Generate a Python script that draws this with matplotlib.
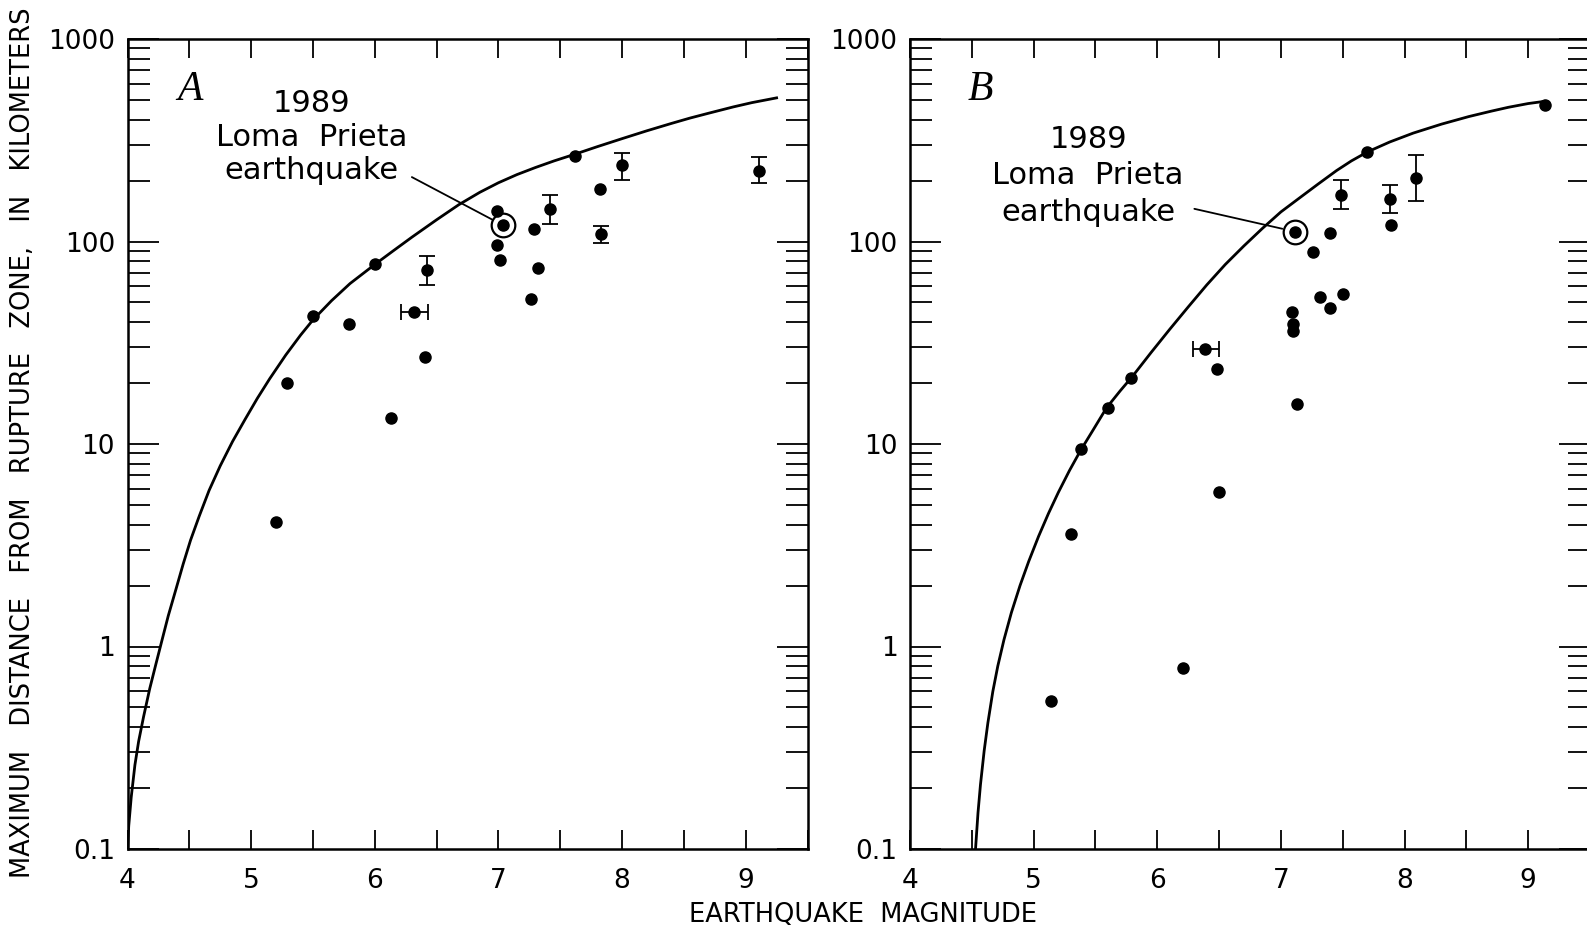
import numpy as np
import matplotlib
matplotlib.use("Agg")
import matplotlib.pyplot as plt

plt.rcParams["font.family"] = ["DejaVu Sans"]

# ---- panel A ----
a_curve_mag = [4.00, 4.01, 4.03, 4.06, 4.09, 4.13, 4.18, 4.23, 4.28, 4.33, 4.39,
               4.45, 4.51, 4.58, 4.66, 4.75, 4.85, 4.95, 5.05, 5.15, 5.28, 5.40,
               5.50, 5.65, 5.80, 6.00, 6.15, 6.30, 6.50, 6.68, 6.85, 7.00, 7.15,
               7.30, 7.45, 7.62, 7.80, 8.00, 8.20, 8.40, 8.55, 8.70, 8.90, 9.05,
               9.25]
a_curve_dist = [0.10, 0.13, 0.18, 0.26, 0.34, 0.45, 0.62, 0.82, 1.08, 1.42, 1.9,
                2.55, 3.35, 4.4, 5.9, 7.8, 10.3, 13.2, 16.8, 21, 27.5, 34.5,
                41, 51, 62, 77, 90, 105, 128, 152, 175, 195, 214,
                232, 250, 270, 294, 322, 352, 383, 407, 430, 462, 485,
                512]

a_dot_mag = [5.20, 5.29, 5.50, 5.79, 6.00, 6.13, 6.41, 6.99, 6.99, 7.01,
             7.26, 7.29, 7.32, 7.62, 7.82]
a_dot_dist = [4.1, 20, 43, 39, 77, 13.4, 27, 141, 96, 81,
              52, 115, 74, 265, 182]

a_yerr_mag = [6.42, 7.42, 7.83, 8.00, 9.11]
a_yerr_dist = [72, 144, 109, 239, 224]
a_yerr_lo = [61, 122, 98, 202, 194]
a_yerr_hi = [85, 170, 119, 275, 261]

a_xerr_mag = [6.32]
a_xerr_dist = [45]
a_xerr_lo = [6.21]
a_xerr_hi = [6.43]

a_loma = (7.04, 120)

# ---- panel B ----
b_curve_mag = [4.53, 4.55, 4.57, 4.60, 4.63, 4.67, 4.71, 4.76, 4.82, 4.89, 4.96,
               5.04, 5.12, 5.20, 5.29, 5.38, 5.48, 5.59, 5.70, 5.80, 5.95, 6.10,
               6.25, 6.40, 6.55, 6.70, 6.85, 7.00, 7.15, 7.30, 7.45, 7.57, 7.70,
               7.88, 8.07, 8.30, 8.52, 8.70, 8.84, 9.00, 9.13]
b_curve_dist = [0.10, 0.151, 0.208, 0.306, 0.42, 0.60, 0.80, 1.08, 1.47, 2.0, 2.63,
                3.5, 4.54, 5.77, 7.4, 9.3, 11.7, 15.1, 18.3, 21.6, 28.3, 36.8,
                47.5, 61, 77, 95, 116, 140, 164, 192, 224, 250, 277,
                310, 343, 380, 414, 440, 460, 480, 492]

b_dot_mag = [5.14, 5.30, 5.38, 5.60, 5.79, 6.21, 6.50, 6.48, 7.09, 7.10, 7.10,
             7.13, 7.26, 7.32, 7.40, 7.40, 7.50, 7.70, 7.89, 9.14]
b_dot_dist = [0.54, 3.6, 9.4, 15.1, 21.2, 0.78, 5.8, 23.5, 45, 39, 36,
              15.8, 89, 53, 110, 47, 55, 277, 120, 470]

b_yerr_mag = [7.49, 7.88, 8.09]
b_yerr_dist = [170, 162, 206]
b_yerr_lo = [144, 138, 158]
b_yerr_hi = [202, 191, 268]

b_xerr_mag = [6.39]
b_xerr_dist = [29.4]
b_xerr_lo = [6.29]
b_xerr_hi = [6.50]

b_loma = (7.11, 112)

ytick_vals = [0.1, 1, 10, 100, 1000]
ytick_labels = ["0.1", "1", "10", "100", "1000"]
xtick_vals = [4, 5, 6, 7, 8, 9]
loma_text = "1989\nLoma  Prieta\nearthquake"

W, H = 1587, 932
fig = plt.figure(figsize=(W / 100, H / 100), dpi=100)


def draw_panel(ax, cm, cd, dm, dd, em, ed, elo, ehi, xm, xd, xlo, xhi, loma,
               letter, letter_pos, text_pos, text_spacing, leader_start):
    ax.set_yscale("log")
    ax.plot(cm, cd, color="black", lw=2.0, solid_joinstyle="round", zorder=3)
    ax.plot(dm, dd, "o", color="black", ms=8, zorder=4)
    ed = np.array(ed)
    ax.errorbar(em, ed, yerr=[ed - np.array(elo), np.array(ehi) - ed],
                fmt="o", color="black", ms=8, elinewidth=1.3, capsize=5.5,
                capthick=1.3, zorder=4)
    xm = np.array(xm)
    ax.errorbar(xm, xd, xerr=[xm - np.array(xlo), np.array(xhi) - xm],
                fmt="o", color="black", ms=8, elinewidth=1.3, capsize=5.5,
                capthick=1.3, zorder=4)
    ax.plot([loma[0]], [loma[1]], "o", color="black", ms=8, zorder=5)
    ax.plot([loma[0]], [loma[1]], "o", mfc="none", mec="black", ms=17,
            mew=1.6, zorder=5)
    ax.annotate("", xy=loma, xytext=leader_start,
                arrowprops=dict(arrowstyle="-", color="black", lw=1.3,
                                shrinkA=0, shrinkB=9))
    ax.text(text_pos[0], text_pos[1], loma_text, transform=ax.transAxes,
            ha="center", va="center", fontsize=22, linespacing=text_spacing)
    ax.text(letter_pos[0], letter_pos[1], letter, transform=ax.transAxes,
            ha="center", va="center", fontsize=30, style="italic",
            family="Liberation Serif")

    ax.set_xlim(4, 9.48)
    ax.set_ylim(0.1, 1000)
    ax.set_xticks(xtick_vals)
    ax.set_xticks([v + 0.5 for v in xtick_vals], minor=True)
    ax.set_yticks(ytick_vals, ytick_labels)
    ax.yaxis.set_minor_locator(matplotlib.ticker.LogLocator(base=10, subs=range(2, 10)))
    ax.yaxis.set_minor_formatter(matplotlib.ticker.NullFormatter())
    ax.tick_params(axis="x", which="both", direction="in", top=True,
                   length=13.5, width=1.3, labelsize=19, pad=14)
    ax.tick_params(axis="y", which="major", direction="in", right=True,
                   length=22, width=1.3, labelsize=19, pad=9)
    ax.tick_params(axis="y", which="minor", direction="in", right=True,
                   length=16, width=1.3)
    for s in ax.spines.values():
        s.set_linewidth(1.8)


ax_w = 680 / W
ax_h = 810 / H
ax_b = (H - 849) / H
axA = fig.add_axes([127.5 / W, ax_b, ax_w, ax_h])
axB = fig.add_axes([910 / W, ax_b, ax_w, ax_h])

draw_panel(axA, a_curve_mag, a_curve_dist, a_dot_mag, a_dot_dist,
           a_yerr_mag, a_yerr_dist, a_yerr_lo, a_yerr_hi,
           a_xerr_mag, a_xerr_dist, a_xerr_lo, a_xerr_hi, a_loma,
           "A", (0.092, 0.937), (0.271, 0.879), 1.2, (6.30, 208))
draw_panel(axB, b_curve_mag, b_curve_dist, b_dot_mag, b_dot_dist,
           b_yerr_mag, b_yerr_dist, b_yerr_lo, b_yerr_hi,
           b_xerr_mag, b_xerr_dist, b_xerr_lo, b_xerr_hi, b_loma,
           "B", (0.104, 0.937), (0.262, 0.831), 1.32, (6.30, 145))

fig.text(863 / W, 1 - 915 / H, "EARTHQUAKE  MAGNITUDE", ha="center",
         va="center", fontsize=18.5)
fig.text(23 / W, 1 - 443 / H,
         "MAXIMUM   DISTANCE   FROM   RUPTURE   ZONE,   IN   KILOMETERS",
         rotation=90, ha="center", va="center", fontsize=18.5)

fig.savefig("out.png", dpi=100)
